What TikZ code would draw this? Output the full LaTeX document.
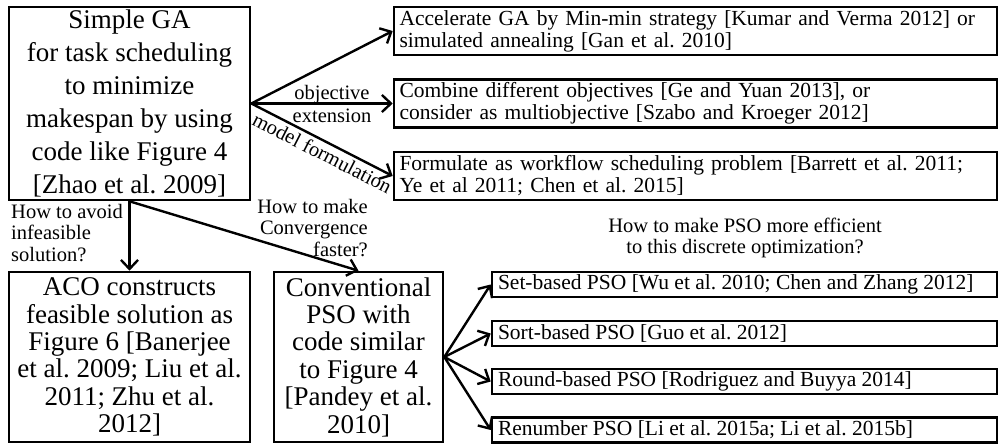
\documentclass[tikz,border=0pt]{standalone}
\usepackage{fontspec}
\setmainfont{Liberation Serif}
\usetikzlibrary{arrows.meta}
\newcommand{\lbox}[2]{\makebox[#1][l]{#2}}
\begin{document}
\frenchspacing
\begin{tikzpicture}[x=1pt,y=-1pt,
  bigbox/.style={draw,line width=2.6pt,inner sep=0pt,align=center},
  refbox/.style={draw,line width=2.6pt,inner sep=0pt,minimum width=603pt,minimum height=48pt,text width=592pt,align=left,font=\fontsize{21.5}{22}\selectfont},
  psobox/.style={draw,line width=2.6pt,inner ysep=0pt,inner xsep=0pt,minimum width=505pt,minimum height=25pt,font=\fontsize{21.5}{22}\selectfont},
  arr/.style={line width=2.4pt,-{Straight Barb[length=9pt,width=17pt]}},
  lbl/.style={font=\fontsize{20.5}{21.5}\selectfont,inner sep=0pt}]
\useasboundingbox (0,0) rectangle (999,444);
% main GA box
\node[bigbox,minimum width=241pt,minimum height=193pt,font=\fontsize{27}{33}\selectfont] (ga) at (129.5,103.5)
  {Simple GA\\for task scheduling\\to minimize\\makespan by using\\code like Figure 4\\{[}Zhao et al. 2009{]}};
% right reference boxes
\node[refbox] (b1) at (695.5,31) {Accelerate GA by Min-min strategy [Kumar and Verma 2012] or\\simulated annealing [Gan et al. 2010]};
\node[refbox] (b2) at (695.5,103.5) {Combine different objectives [Ge and Yuan 2013], or\\consider as multiobjective [Szabo and Kroeger 2012]};
\node[refbox] (b3) at (695.5,176) {Formulate as workflow scheduling problem [Barrett et al. 2011;\\Ye et al 2011; Chen et al. 2015]};
% bottom boxes
\node[bigbox,minimum width=241pt,minimum height=170pt,font=\fontsize{27}{27.4}\selectfont] (aco) at (129.5,357)
  {ACO constructs\\feasible solution as\\Figure 6 [Banerjee\\et al. 2009; Liu et al.\\2011; Zhu et al.\\2012]};
\node[bigbox,minimum width=169pt,minimum height=170pt,font=\fontsize{27}{27.4}\selectfont] (pso) at (358.5,357)
  {Conventional\\PSO with\\code similar\\to Figure 4\\{[}Pandey et al.\\2010{]}};
% PSO variant boxes
\node[psobox] (p1) at (744.5,284.5) {\lbox{493pt}{Set-based PSO [Wu et al. 2010; Chen and Zhang 2012]}};
\node[psobox] (p2) at (744.5,333.5) {\lbox{493pt}{Sort-based PSO [Guo et al. 2012]}};
\node[psobox] (p3) at (744.5,381.5) {\lbox{493pt}{Round-based PSO [Rodriguez and Buyya 2014]}};
\node[psobox] (p4) at (744.5,430) {\lbox{493pt}{Renumber PSO [Li et al. 2015a; Li et al. 2015b]}};
% arrows from GA
\coordinate (gae) at (ga.east);
\coordinate (gas) at (ga.south);
\draw[arr] (gae) -- (b1.west);
\draw[arr] (gae) -- (b2.west);
\draw[arr] (gae) -- node[sloped,below=3pt,lbl,pos=0.54] {model formulation} (b3.west);
\node[lbl,align=center] (objlbl) at (332,104) {objective\\[1.5pt]extension};
\draw[arr] (gas) -- (aco.north);
\draw[arr] (gas) -- (pso.north);
% arrows from PSO
\coordinate (psoe) at (pso.east);
\draw[arr] (psoe) -- (p1.west);
\draw[arr] (psoe) -- (p2.west);
\draw[arr] (psoe) -- (p3.west);
\draw[arr] (psoe) -- (p4.west);
% question labels
\node[lbl,align=left,anchor=north west] (q1) at (11,204) {How to avoid\\infeasible\\solution?};
\node[lbl,align=right,anchor=north east] (q2) at (368,199) {How to make\\Convergence\\faster?};
\node[lbl,align=center] (q3) at (745,238) {How to make PSO more efficient\\to this discrete optimization?};
\end{tikzpicture}
\end{document}
